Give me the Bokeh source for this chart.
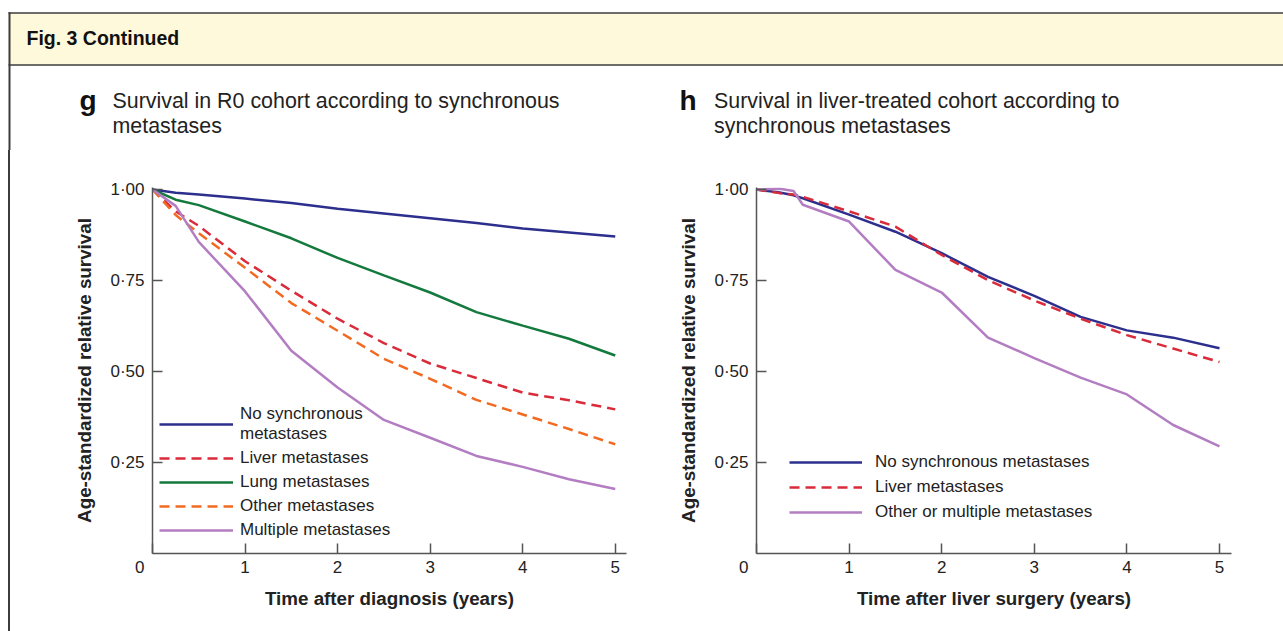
from bokeh.plotting import figure
from bokeh.models import Range1d, FixedTicker, Legend, LegendItem, Label, Spacer
from bokeh.layouts import column, row
from bokeh.embed import file_html
from bokeh.resources import INLINE

# ---------------- data ----------------
years_g = [0, 0.25, 0.5, 1, 1.5, 2, 2.5, 3, 3.5, 4, 4.5, 5]
g_no_sync = [1.0, 0.991, 0.986, 0.975, 0.963, 0.947, 0.934, 0.921, 0.908, 0.893, 0.882, 0.871]
g_liver = [1.0, 0.94, 0.90, 0.803, 0.722, 0.645, 0.578, 0.522, 0.482, 0.442, 0.421, 0.396]
g_lung = [1.0, 0.972, 0.957, 0.912, 0.866, 0.812, 0.764, 0.717, 0.663, 0.626, 0.590, 0.544]
g_other = [1.0, 0.93, 0.88, 0.785, 0.688, 0.612, 0.535, 0.480, 0.422, 0.382, 0.342, 0.300]
g_multiple = [1.0, 0.955, 0.856, 0.720, 0.557, 0.456, 0.367, 0.318, 0.268, 0.238, 0.204, 0.177]

years_h = [0, 0.25, 0.4, 0.5, 1, 1.5, 2, 2.5, 3, 3.5, 4, 4.5, 5]
h_no_sync = [1.0, 0.992, 0.984, 0.976, 0.931, 0.884, 0.825, 0.760, 0.708, 0.650, 0.613, 0.593, 0.564]
h_liver = [1.0, 0.99, 0.986, 0.98, 0.94, 0.898, 0.820, 0.751, 0.695, 0.645, 0.600, 0.563, 0.526]
h_other_multiple = [1.0, 1.002, 0.996, 0.958, 0.912, 0.779, 0.717, 0.593, 0.537, 0.483, 0.437, 0.353, 0.294]

g_labels = ["No synchronous\nmetastases", "Liver metastases", "Lung metastases",
            "Other metastases", "Multiple metastases"]
h_labels = ["No synchronous metastases", "Liver metastases", "Other or multiple metastases"]

y_ticks = [0.25, 0.5, 0.75, 1.0]
y_tick_labels = ["0·25", "0·50", "0·75", "1·00"]
x_ticks = [0, 1, 2, 3, 4, 5]
# the origin label sits left of the axis corner: trailing em/en spaces shift the centred "0"
x_tick_labels = ["0\u2003\u2002", "1", "2", "3", "4", "5"]

header_text = "Fig. 3 Continued"
g_letter, h_letter = "g", "h"
g_title = ["Survival in R0 cohort according to synchronous", "metastases"]
h_title = ["Survival in liver-treated cohort according to", "synchronous metastases"]
y_title = "Age-standardized relative survival"
g_xtitle = "Time after diagnosis (years)"
h_xtitle = "Time after liver surgery (years)"

# ---------------- styles ----------------
FONT = "Liberation Sans"
TXT = "#222222"
AXC = "#555555"
NAVY = "#2D2F8E"
RED = "#D92B3A"
GREEN = "#13793D"
ORANGE = "#F26A21"
PURPLE = "#B37DC2"
BORDER = "#3c3c3c"
LW = 2.5
DASH = "10 6"
HDR_H = 150          # height of the top strip (header box + panel titles)
ROW_H = 631 - HDR_H  # height of the panels row


def blank(p):
    p.xgrid.visible = False
    p.ygrid.visible = False


# ---------------- header + titles ----------------
hdr = figure(width=1283, height=HDR_H, x_range=Range1d(0, 1283), y_range=Range1d(HDR_H, 0),
             output_backend="svg", toolbar_location=None, min_border=0,
             x_axis_location=None, y_axis_location=None, outline_line_color=None,
             background_fill_color="white", border_fill_color="white")
blank(hdr)
hdr.quad(left=8, right=1300, top=12.5, bottom=64.5, fill_color="#FFF9DC", line_color=None)
hdr.segment(x0=[8, 8], y0=[12.5, 64.5], x1=[1300, 1300], y1=[12.5, 64.5],
            line_color=BORDER, line_width=1.6)
hdr.segment(x0=[9], y0=[11.7], x1=[9], y1=[HDR_H], line_color=BORDER, line_width=2)
hdr.add_layout(Label(x=26, y=44, text=header_text, text_font=FONT, text_font_size="19.5px",
                     text_font_style="bold", text_color="#111111", text_baseline="alphabetic",
                     y_offset=7))


def title_block(x_letter, x_text, letter, lines):
    hdr.add_layout(Label(x=x_letter, y=99.5, text=letter, text_font=FONT, text_font_size="28px",
                         text_font_style="bold", text_color="#111111",
                         text_baseline="alphabetic"))
    for yb, line in zip([100.5, 125.5], lines):
        hdr.add_layout(Label(x=x_text, y=yb, text=line, text_font=FONT,
                             text_font_size="21.4px", text_color=TXT,
                             text_baseline="alphabetic"))


title_block(79, 112, g_letter, g_title)
title_block(679, 713.5, h_letter, h_title)

# ---------------- left border strip ----------------
pad = Spacer(width=8, height=ROW_H)
bar = Spacer(width=2, height=ROW_H, styles={"background-color": BORDER})


def make_panel(fw, px_per_year, mb_left, mb_right, xtitle):
    p = figure(frame_width=fw, frame_height=366,
               min_border_left=mb_left, min_border_right=mb_right,
               min_border_top=187 - HDR_H, min_border_bottom=ROW_H - (187 - HDR_H) - 366,
               x_range=Range1d(0, fw / px_per_year), y_range=Range1d(0, 366 / 364),
               output_backend="svg", toolbar_location=None,
               outline_line_color=None, background_fill_color="white",
               border_fill_color="white")
    blank(p)
    for ax in (p.xaxis[0], p.yaxis[0]):
        ax.axis_line_color = AXC
        ax.axis_line_width = 1.5
        ax.major_tick_line_color = AXC
        ax.major_tick_line_width = 1.5
        ax.major_tick_in = 10
        ax.major_tick_out = 0
        ax.minor_tick_line_color = None
        ax.major_label_text_font = FONT
        ax.major_label_text_font_size = "17px"
        ax.major_label_text_color = TXT
        ax.axis_label_text_font = FONT
        ax.axis_label_text_font_size = "18.8px"
        ax.axis_label_text_font_style = "bold"
        ax.axis_label_text_color = TXT
    p.xaxis.ticker = FixedTicker(ticks=x_ticks)
    p.xaxis.major_label_overrides = dict(zip(x_ticks, x_tick_labels))
    p.yaxis.ticker = FixedTicker(ticks=y_ticks)
    p.yaxis.major_label_overrides = dict(zip(y_ticks, y_tick_labels))
    p.xaxis.major_label_standoff = 4
    p.yaxis.major_label_standoff = 8
    p.xaxis.axis_label = xtitle
    p.yaxis.axis_label = y_title
    p.xaxis.axis_label_standoff = 8
    p.yaxis.axis_label_standoff = 12
    return p


def make_legend(items, loc, spacing, gw, standoff, line_height=1.2):
    return Legend(items=items, location=loc, padding=0, margin=0, spacing=spacing,
                  glyph_width=gw, glyph_height=20, label_height=20, label_standoff=standoff,
                  border_line_color=None, background_fill_alpha=0,
                  label_text_font=FONT, label_text_font_size="17px", label_text_color=TXT,
                  label_text_line_height=line_height)


# ---------------- panel g ----------------
pg = make_panel(474, 92.55, 142, 30, g_xtitle)
g_series = [(g_no_sync, NAVY, "solid"), (g_liver, RED, DASH), (g_lung, GREEN, "solid"),
            (g_other, ORANGE, DASH), (g_multiple, PURPLE, "solid")]
g_items = []
for (vals, col, dash), lab in zip(g_series, g_labels):
    r = pg.line(years_g, vals, line_color=col, line_width=LW, line_dash=dash)
    g_items.append(LegendItem(label=lab, renderers=[r]))
pg.add_layout(make_legend(g_items, (7, 13), 4, 74, 7, 1.3))

# ---------------- panel h ----------------
ph = make_panel(475, 92.6, 100, 52, h_xtitle)
h_series = [(h_no_sync, NAVY, "solid"), (h_liver, RED, DASH), (h_other_multiple, PURPLE, "solid")]
h_items = []
for (vals, col, dash), lab in zip(h_series, h_labels):
    r = ph.line(years_h, vals, line_color=col, line_width=LW, line_dash=dash)
    h_items.append(LegendItem(label=lab, renderers=[r]))
ph.add_layout(make_legend(h_items, (33, 31), 5, 73, 13))

layout = column(hdr, row(pad, bar, pg, ph))
open("out.html", "w").write(file_html(layout, INLINE))
